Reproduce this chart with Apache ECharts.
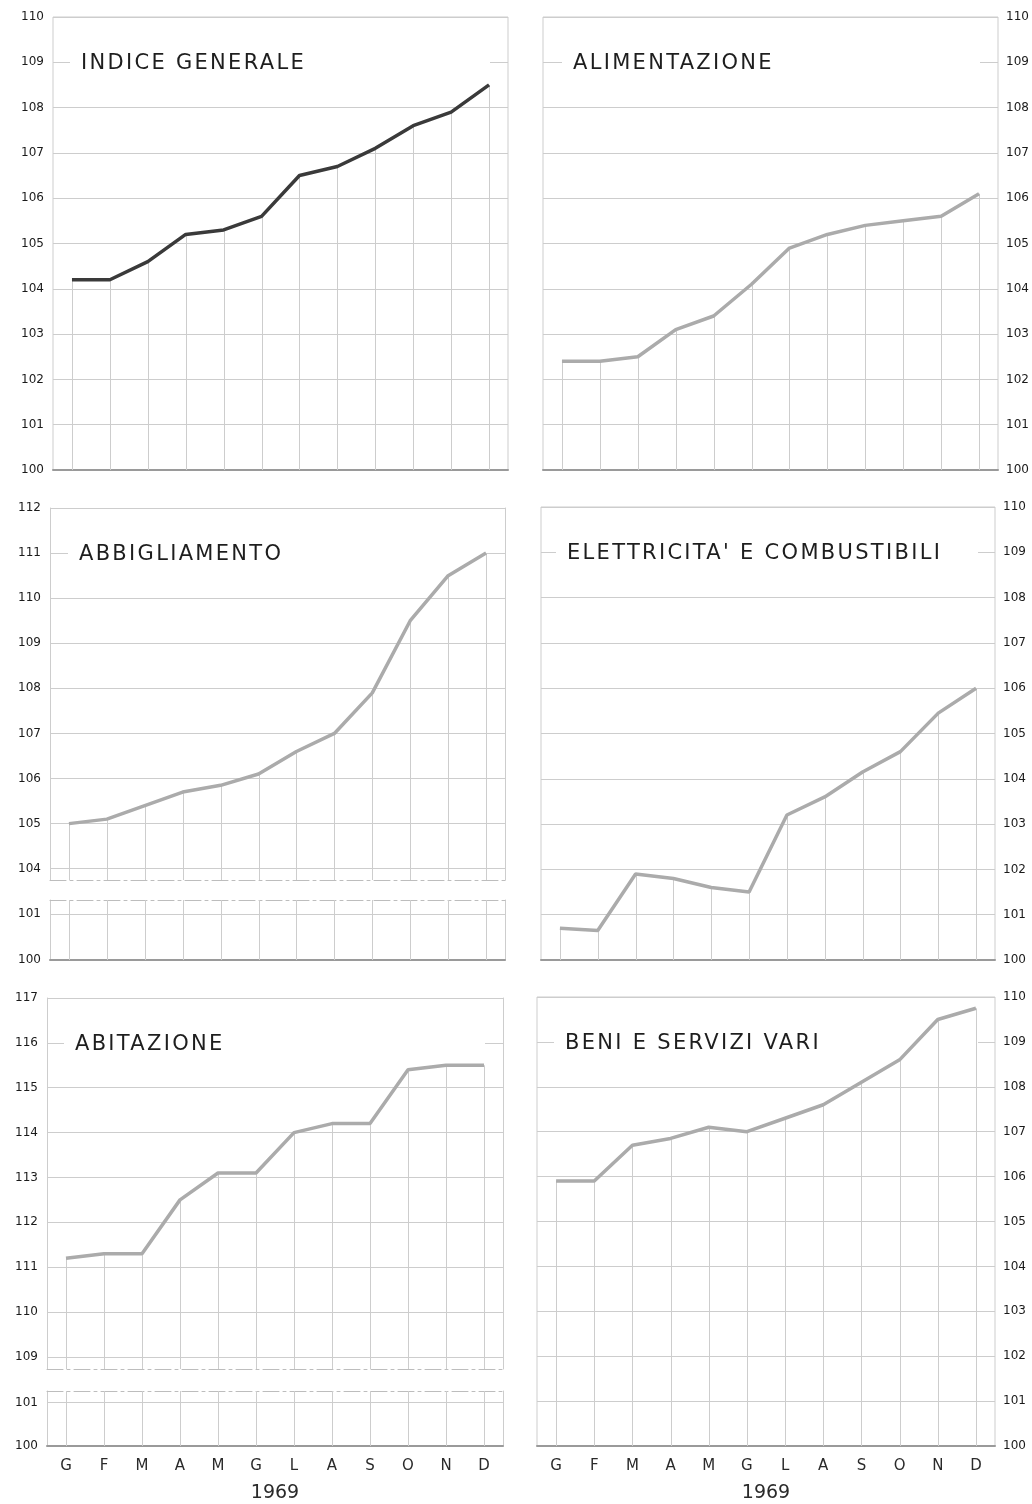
<!DOCTYPE html>
<html>
<head>
<meta charset="utf-8">
<script src="https://cdn.jsdelivr.net/npm/echarts@6.0.0/dist/echarts.min.js"></script>
<style>
html,body{margin:0;padding:0;background:#fff;}
#chart{width:1032px;height:1504px;}
</style>
</head>
<body>
<div id="chart"></div>
<script>
// ---- data ----
const months = ['G','F','M','A','M','G','L','A','S','O','N','D'];
const yearLabel = '1969';
const titles = ['INDICE GENERALE','ALIMENTAZIONE','ABBIGLIAMENTO',"ELETTRICITA' E COMBUSTIBILI",'ABITAZIONE','BENI E SERVIZI VARI'];
const indiceGenerale = [104.2,104.2,104.6,105.2,105.3,105.6,106.5,106.7,107.1,107.6,107.9,108.5];
const alimentazione  = [102.4,102.4,102.5,103.1,103.4,104.1,104.9,105.2,105.4,105.5,105.6,106.1];
const abbigliamento  = [105.0,105.1,105.4,105.7,105.85,106.1,106.6,107.0,107.9,109.5,110.5,111.0];
const elettricita    = [100.7,100.65,101.9,101.8,101.6,101.5,103.2,103.6,104.15,104.6,105.45,106.0];
const abitazione     = [111.2,111.3,111.3,112.5,113.1,113.1,114.0,114.2,114.2,115.4,115.5,115.5];
const beniServizi    = [105.9,105.9,106.7,106.85,107.1,107.0,107.3,107.6,108.1,108.6,109.5,109.75];
// axis ranges
const rangeStd = [100, 110];
const rangeAbbUpper = [103.75, 112];
const rangeAbbLower = [100, 101.3];
const rangeAbiUpper = [108.73, 117];
const rangeAbiLower = [100, 101.27];

// ---- styling ----
const FONT = 'DejaVu Sans';
const TITLE_SIZE = 21;
const GRIDC = '#cdcdcd';
const BASEC = '#9a9a9a';
const LINE_DARK = '#3a3a3a';
const LINE_GRAY = '#ababab';
const DASHDOT = [16, 4, 3, 4];

const grids = [], xAxes = [], yAxes = [], series = [], titleOpts = [];

function intFmt(v){ return Math.abs(v - Math.round(v)) < 1e-6 ? String(Math.round(v)) : ''; }

function addGrid(box, range, opts){
  const gi = grids.length;
  grids.push({left: box[0], top: box[1], width: box[2], height: box[3], show: !opts.broken,
    borderColor: GRIDC, borderWidth: 1, backgroundColor: 'transparent'});
  const xi = xAxes.length;
  xAxes.push({type: 'category', gridIndex: gi, data: months, boundaryGap: true,
    axisTick: {show: false},
    axisLine: {show: true, lineStyle: {color: opts.base ? BASEC : '#bdbdbd', width: opts.base ? 2 : 1,
      type: opts.base ? 'solid' : DASHDOT}},
    axisLabel: {show: !!opts.xLabels, margin: 13, color: '#2a2a2a', fontSize: 15, fontFamily: FONT},
    splitLine: {show: false},
    name: opts.xLabels ? yearLabel : '', nameLocation: 'middle', nameGap: 38,
    nameTextStyle: {fontSize: 19, color: '#2a2a2a', fontFamily: FONT}
  });
  const yi = yAxes.length;
  yAxes.push({type: 'value', gridIndex: gi, min: range[0], max: range[1],
    splitNumber: 8, minInterval: 1, maxInterval: 1,
    position: opts.right ? 'right' : 'left',
    axisLine: {show: !!opts.broken, lineStyle: {color: GRIDC, width: 1}}, axisTick: {show: false},
    axisLabel: {margin: opts.right ? 8 : 9, color: '#1a1a1a', fontSize: 12, fontFamily: FONT, formatter: intFmt,
      showMinLabel: true, showMaxLabel: true},
    splitLine: {show: true, showMinLine: opts.broken !== 'upper', showMaxLine: opts.broken !== 'lower',
      lineStyle: {color: GRIDC, width: 1}}
  });
  if (opts.broken) {
    // right-hand border of a split box
    yAxes.push({type: 'value', gridIndex: gi, min: range[0], max: range[1], position: 'right',
      axisLine: {show: true, lineStyle: {color: GRIDC, width: 1}}, axisTick: {show: false},
      axisLabel: {show: false}, splitLine: {show: false}});
    if (opts.broken === 'lower') {
      // dash-dot top edge of the lower box
      xAxes.push({type: 'category', gridIndex: gi, data: months, position: 'top',
        axisLine: {show: true, lineStyle: {color: '#bdbdbd', width: 1, type: DASHDOT}},
        axisTick: {show: false}, axisLabel: {show: false}, splitLine: {show: false}});
    }
  }
  return {xi: xi, yi: yi};
}

function addLine(ax, data, color){
  series.push({type: 'line', xAxisIndex: ax.xi, yAxisIndex: ax.yi, data: data, zlevel: 2,
    symbol: 'none', lineStyle: {color: color, width: 3.5}, z: 5, silent: true, animation: false});
}

function addDrops(ax, data, base, cap){
  series.push({type: 'custom', xAxisIndex: ax.xi, yAxisIndex: ax.yi, silent: true, animation: false, z: 2, zlevel: 2,
    data: data.map((v, i) => [i, cap != null ? Math.min(v, cap) : v]),
    renderItem: function(params, api){
      const p1 = api.coord([api.value(0), api.value(1)]);
      const p2 = api.coord([api.value(0), base]);
      const x = Math.round(p1[0]) + 0.5;
      return {type: 'line', shape: {x1: x, y1: p1[1], x2: x, y2: p2[1]},
        style: {stroke: GRIDC, lineWidth: 1}};
    }
  });
}

const measureCtx = document.createElement('canvas').getContext('2d');
measureCtx.font = TITLE_SIZE + 'px ' + FONT;
function addTitle(text, textLeft, lineY, whiteEnd){
  const w = measureCtx.measureText(text).width;
  const left = textLeft - 11;
  const padR = Math.max(0, whiteEnd - (textLeft + w));
  titleOpts.push({text: text, left: left, top: lineY - 12, zlevel: 1,
    padding: [1, padR, 1, 11], backgroundColor: '#fff',
    textStyle: {fontSize: TITLE_SIZE, fontWeight: 'normal', color: '#1e1e1e', fontFamily: FONT, lineHeight: 26}});
}

// Panel 1: Indice generale
let ax = addGrid([53, 17, 455, 453], rangeStd, {base: true});
addDrops(ax, indiceGenerale, rangeStd[0]);
addLine(ax, indiceGenerale, LINE_DARK);
addTitle(titles[0], 81, 62, 490);

// Panel 2: Alimentazione
ax = addGrid([543, 17, 455, 453], rangeStd, {base: true, right: true});
addDrops(ax, alimentazione, rangeStd[0]);
addLine(ax, alimentazione, LINE_GRAY);
addTitle(titles[1], 573, 62, 980);

// Panel 3: Abbigliamento (broken axis)
ax = addGrid([50, 508, 455, 372], rangeAbbUpper, {base: false, broken: 'upper'});
addDrops(ax, abbigliamento, rangeAbbUpper[0]);
addLine(ax, abbigliamento, LINE_GRAY);
addTitle(titles[2], 79, 553, 485);
ax = addGrid([50, 900, 455, 60], rangeAbbLower, {base: true, broken: 'lower'});
addDrops(ax, abbigliamento, rangeAbbLower[0], rangeAbbLower[1]);

// Panel 4: Elettricita' e combustibili
ax = addGrid([541, 507, 454, 453], rangeStd, {base: true, right: true});
addDrops(ax, elettricita, rangeStd[0]);
addLine(ax, elettricita, LINE_GRAY);
addTitle(titles[3], 567, 552, 978);

// Panel 5: Abitazione (broken axis)
ax = addGrid([47, 998, 456, 371], rangeAbiUpper, {base: false, broken: 'upper'});
addDrops(ax, abitazione, rangeAbiUpper[0]);
addLine(ax, abitazione, LINE_GRAY);
addTitle(titles[4], 75, 1043, 485);
ax = addGrid([47, 1391, 456, 57], rangeAbiLower, {base: true, broken: 'lower', xLabels: true});
addDrops(ax, abitazione, rangeAbiLower[0], rangeAbiLower[1]);

// Panel 6: Beni e servizi vari
ax = addGrid([537, 997, 458, 453], rangeStd, {base: true, right: true, xLabels: true});
addDrops(ax, beniServizi, rangeStd[0]);
addLine(ax, beniServizi, LINE_GRAY);
addTitle(titles[5], 565, 1042, 978);

const chart = echarts.init(document.getElementById('chart'), null, {renderer: 'canvas'});
// titles in the original are lettered with wide spacing
try {
  const layer = chart.getZr().painter.getLayer(1);
  if (layer && layer.ctx) layer.ctx.letterSpacing = '2.3px';
} catch (e) {}
chart.setOption({
  backgroundColor: '#fff',
  animation: false,
  title: titleOpts,
  grid: grids,
  xAxis: xAxes,
  yAxis: yAxes,
  series: series
});
</script>
</body>
</html>
